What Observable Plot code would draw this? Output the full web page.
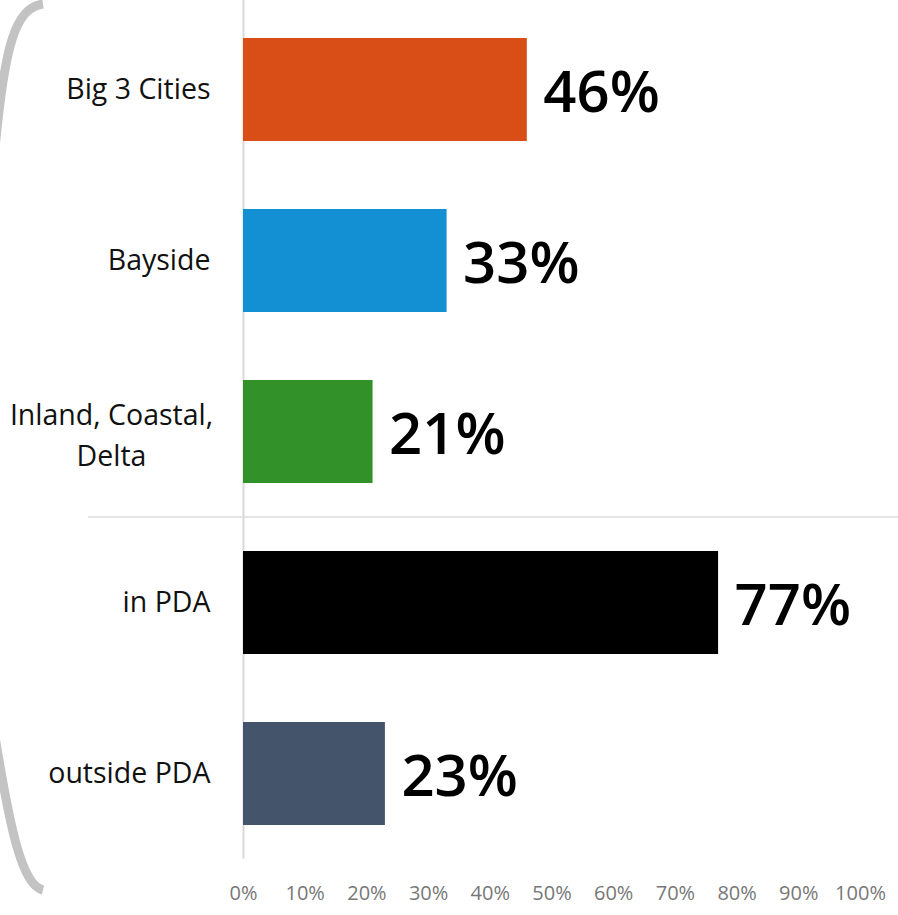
<!DOCTYPE html>
<html>
<head>
<meta charset="utf-8">
<script src="https://cdn.jsdelivr.net/npm/d3@7"></script>
<script src="https://cdn.jsdelivr.net/npm/@observablehq/plot@0.6"></script>
<style>
  html, body { margin: 0; padding: 0; background: #fff; }
  #chart { width: 898px; height: 915px; overflow: hidden; }
</style>
</head>
<body>
<div id="chart"></div>
<script>
const categories = ["Big 3 Cities", "Bayside", "Inland, Coastal,\nDelta", "in PDA", "outside PDA"];
const values = [46, 33, 21, 77, 23];
const colors = ["#d84e16", "#138fd3", "#339129", "#000000", "#44546a"];
const tickValues = [0, 10, 20, 30, 40, 50, 60, 70, 80, 90, 100];

const data = categories.map((c, i) => ({cat: c, value: values[i]}));
const singleLine = data.filter(d => !d.cat.includes("\n"));
const multiLine = data.filter(d => d.cat.includes("\n"));

const plot = Plot.plot({
  width: 898,
  height: 915,
  marginLeft: 243,
  marginRight: 38,
  marginTop: 3.5,
  marginBottom: 56.5,
  style: {fontFamily: "'Open Sans', sans-serif", background: "white", overflow: "visible"},
  x: {domain: [0, 100], axis: null},
  y: {domain: categories, paddingInner: 0.4, paddingOuter: 0.2, axis: null},
  color: {domain: categories, range: colors},
  marks: [
    Plot.ruleX([0], {stroke: "#d9d9d9", strokeWidth: 2, insetTop: -4}),
    Plot.barX(data, {x: "value", y: "cat", fill: "cat"}),
    Plot.text(data, {x: "value", y: "cat", text: d => d.value + "%", textAnchor: "start", dx: 16, dy: 3, fontSize: 58, fontWeight: 600, fill: "#000"}),
    Plot.text(singleLine, {x: 0, y: "cat", text: "cat", textAnchor: "end", dx: -33, fontSize: 28.5, fill: "#111"}),
    Plot.text(multiLine, {x: 0, y: "cat", text: "cat", textAnchor: "middle", dx: -132, fontSize: 28.5, lineHeight: 1.45, fill: "#111"}),
    Plot.axisX({ticks: tickValues, tickFormat: d => d + "%", tickSize: 0, tickPadding: 27, fontSize: 20, fill: "#777", anchor: "bottom", label: null})
  ]
});

document.getElementById("chart").appendChild(plot);

// decorations: separator between the two groups, and the left bracket
const svg = d3.select(plot);
const ys = plot.scale("y");
const gap = ys.step - ys.bandwidth;
const sepY = ys.apply("in PDA") - gap / 2;
svg.insert("line", ":first-child")
  .attr("x1", 88).attr("x2", 898)
  .attr("y1", sepY).attr("y2", sepY)
  .attr("stroke", "#dcdcdc").attr("stroke-width", 1.5);

svg.append("path")
  .attr("d", "M 43,4 C 15,8 4,45 -6,160 L -6,730 C 10,830 22,885 43,890")
  .attr("fill", "none")
  .attr("stroke", "#c3c3c3")
  .attr("stroke-width", 9);
</script>
</body>
</html>
